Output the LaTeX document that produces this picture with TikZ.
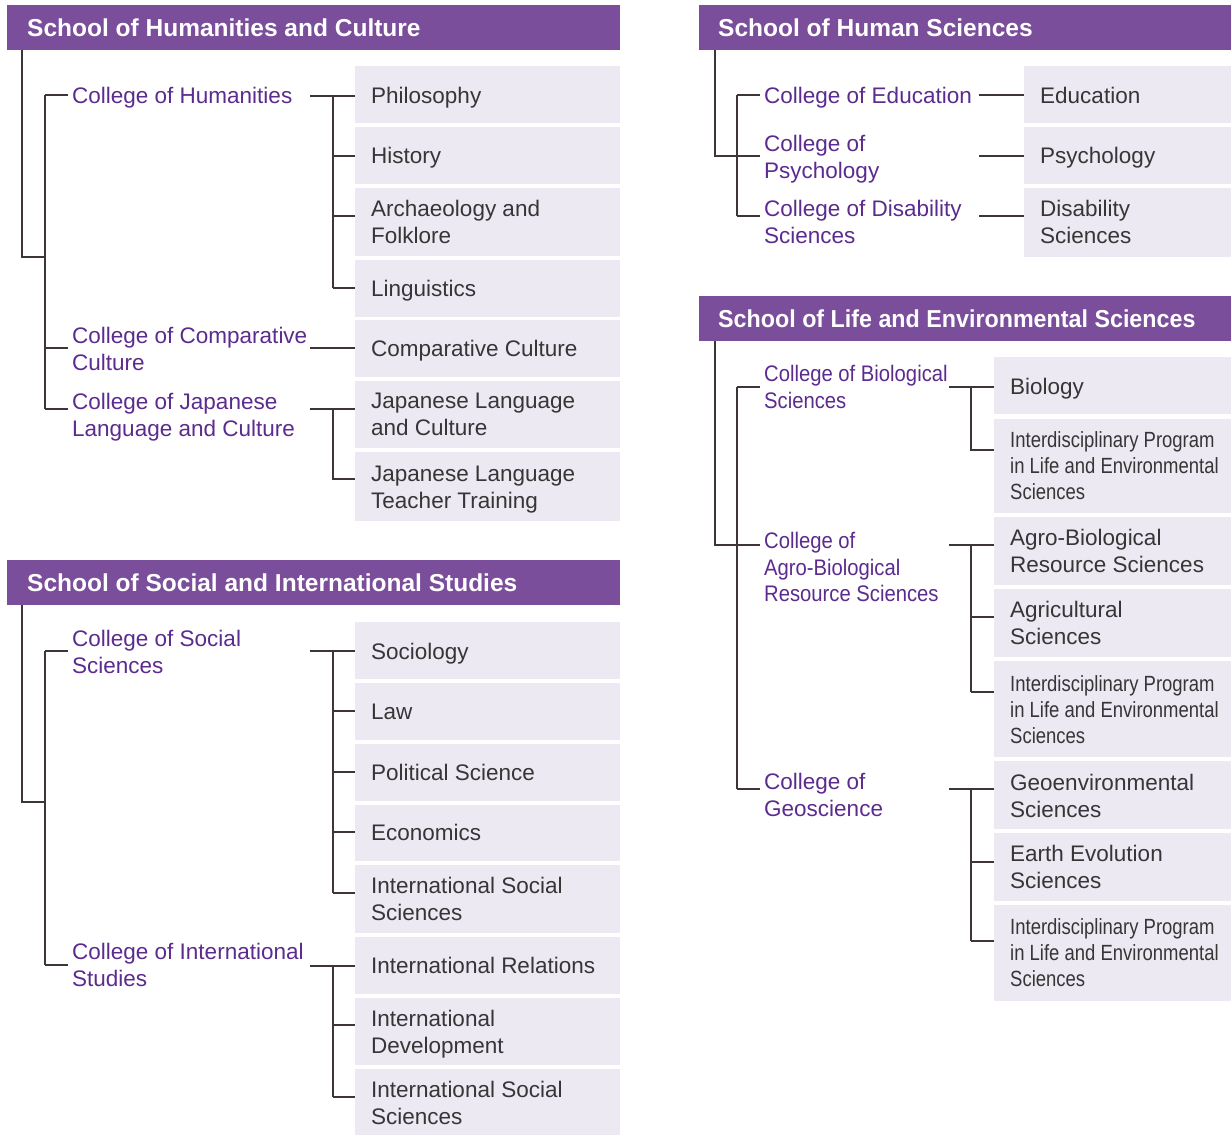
\documentclass[tikz,border=0pt]{standalone}
\usepackage{fontspec}
\setmainfont{Liberation Sans}
\newfontfamily\narrowprog[FakeStretch=0.84]{Liberation Sans}
\newfontfamily\narrowcol[FakeStretch=0.9]{Liberation Sans}
\newfontfamily\narrowhdr[FakeStretch=0.95]{Liberation Sans}
\definecolor{hdrc}{HTML}{7A4E9B}
\definecolor{colc}{HTML}{5B2B8E}
\definecolor{boxc}{HTML}{ECE9F2}
\definecolor{ptc}{HTML}{363636}
\definecolor{linec}{HTML}{3E3636}
\newcommand\mybx[5]{\node[pbox,minimum width=#4pt,minimum height=#5pt] (#1) at (#2,#3) {};}
\newcommand\mytx[5]{\node[#1] (#2) at (#3,{#4-18}) {#5};}
\newcommand\mytxm[5]{\node[#1] (#2) at (#3,{#4-16}) {#5};}
\tikzset{
  hdr/.style={fill=hdrc,draw=none,minimum height=45pt,anchor=north west,inner sep=0pt},
  hdrtxt/.style={anchor=base west,inner sep=0pt,text=white,font=\fontsize{24.5}{28}\selectfont\bfseries},
  nhdrtxt/.style={hdrtxt,font=\narrowhdr\fontsize{24.5}{28}\selectfont\bfseries},
  pbox/.style={fill=boxc,draw=none,anchor=north west,inner sep=0pt},
  ptext/.style={anchor=north west,inner sep=0pt,align=left,text=ptc,font=\fontsize{22.5}{27}\selectfont,execute at begin node={\rule{0pt}{18pt}}},
  nptext/.style={ptext,font=\narrowprog\fontsize{22}{26}\selectfont},
  ctext/.style={ptext,text=colc},
  nctext/.style={ptext,text=colc,font=\narrowcol\fontsize{22.5}{26.5}\selectfont},
  conn/.style={draw=linec,line width=1.2pt}
}
\begin{document}
\begin{tikzpicture}[x=1pt,y=-1pt]
\useasboundingbox (0,0) rectangle (1231,1135);
% ---------- Headers ----------
\node[hdr,minimum width=613pt] (h1) at (7,5) {};
\node[hdrtxt] (h1t) at (27,36) {School of Humanities and Culture};
\node[hdr,minimum width=532pt] (h2) at (699,5) {};
\node[hdrtxt] (h2t) at (718,36) {School of Human Sciences};
\node[hdr,minimum width=532pt] (h3) at (699,296) {};
\node[nhdrtxt] (h3t) at (718,327) {School of Life and Environmental Sciences};
\node[hdr,minimum width=613pt] (h4) at (7,560) {};
\node[hdrtxt] (h4t) at (27,591) {School of Social and International Studies};
% ---------- Humanities boxes ----------
\mybx{bP}{355}{66}{265}{57}
\mybx{bH}{355}{127}{265}{57}
\mybx{bA}{355}{188}{265}{68}
\mybx{bL}{355}{260}{265}{57}
\mybx{bC}{355}{320}{265}{57}
\mybx{bJa}{355}{381}{265}{67}
\mybx{bJb}{355}{452}{265}{69}
\mytx{ptext}{tP}{371}{103}{Philosophy}
\mytx{ptext}{tH}{371}{163}{History}
\mytxm{ptext}{tA}{371}{216}{Archaeology and\\Folklore}
\mytx{ptext}{tL}{371}{296}{Linguistics}
\mytx{ptext}{tC}{371}{356}{Comparative Culture}
\mytxm{ptext}{tJa}{371}{409}{Japanese Language\\and Culture}
\mytxm{ptext}{tJb}{371}{482}{Japanese Language\\Teacher Training}
\mytx{ctext}{cHu}{72}{103}{College of Humanities}
\mytxm{ctext}{cCo}{72}{343}{College of Comparative\\Culture}
\mytxm{ctext}{cJa}{72}{409}{College of Japanese\\Language and Culture}
% ---------- Social boxes ----------
\mybx{bSo}{355}{622}{265}{57}
\mybx{bLa}{355}{683}{265}{57}
\mybx{bPo}{355}{744}{265}{57}
\mybx{bEc}{355}{805}{265}{56}
\mybx{bIS}{355}{865}{265}{68}
\mybx{bIR}{355}{937}{265}{57}
\mybx{bID}{355}{998}{265}{67}
\mybx{bISb}{355}{1069}{265}{66}
\mytx{ptext}{tSo}{371}{659}{Sociology}
\mytx{ptext}{tLa}{371}{719}{Law}
\mytx{ptext}{tPo}{371}{780}{Political Science}
\mytx{ptext}{tEc}{371}{840}{Economics}
\mytxm{ptext}{tIS}{371}{893}{International Social\\Sciences}
\mytx{ptext}{tIR}{371}{973}{International Relations}
\mytxm{ptext}{tID}{371}{1026}{International\\Development}
\mytxm{ptext}{tISb}{371}{1097}{International Social\\Sciences}
\mytxm{ctext}{cSo}{72}{646}{College of Social\\Sciences}
\mytxm{ctext}{cIn}{72}{959}{College of International\\Studies}
% ---------- Human Sciences boxes ----------
\mybx{bEd}{1024}{66}{207}{57}
\mybx{bPs}{1024}{127}{207}{57}
\mybx{bDi}{1024}{188}{207}{69}
\mytx{ptext}{tEd}{1040}{103}{Education}
\mytx{ptext}{tPs}{1040}{163}{Psychology}
\mytxm{ptext}{tDi}{1040}{216}{Disability\\Sciences}
\mytx{ctext}{cEd}{764}{103}{College of Education}
\mytxm{ctext}{cPs}{764}{151}{College of\\Psychology}
\mytxm{ctext}{cDi}{764}{216}{College of Disability\\Sciences}
% ---------- Life boxes ----------
\mybx{bBi}{994}{357}{237}{57}
\mybx{bIa}{994}{419}{237}{94}
\mybx{bAg}{994}{517}{237}{68}
\mybx{bAc}{994}{589}{237}{68}
\mybx{bIb}{994}{661}{237}{96}
\mybx{bGe}{994}{761}{237}{68}
\mybx{bEa}{994}{833}{237}{68}
\mybx{bIc}{994}{905}{237}{96}
\mytx{ptext}{tBi}{1010}{394}{Biology}
\mytxm{nptext}{tIa}{1010}{447}{Interdisciplinary Program\\in Life and Environmental\\Sciences}
\mytxm{ptext}{tAg}{1010}{545}{Agro-Biological\\Resource Sciences}
\mytxm{ptext}{tAc}{1010}{617}{Agricultural\\Sciences}
\mytxm{nptext}{tIb}{1010}{691}{Interdisciplinary Program\\in Life and Environmental\\Sciences}
\mytxm{ptext}{tGe}{1010}{790}{Geoenvironmental\\Sciences}
\mytxm{ptext}{tEa}{1010}{861}{Earth Evolution\\Sciences}
\mytxm{nptext}{tIc}{1010}{934}{Interdisciplinary Program\\in Life and Environmental\\Sciences}
\mytxm{nctext}{cBi}{764}{381}{College of Biological\\Sciences}
\mytxm{nctext}{cAg}{764}{548}{College of\\Agro-Biological\\Resource Sciences}
\mytxm{ctext}{cGe}{764}{789}{College of\\Geoscience}
% ---------- Junction coordinates ----------
\coordinate (s1) at (22,257);
\coordinate (k1) at (45,95);
\coordinate (k2) at (45,348);
\coordinate (k3) at (45,409);
\coordinate (s4) at (22,802);
\coordinate (k4) at (45,651);
\coordinate (k5) at (45,965);
\coordinate (s2) at (715,156);
\coordinate (m1) at (737,95);
\coordinate (m3) at (737,216);
\coordinate (s3) at (715,545);
\coordinate (n1) at (737,387);
\coordinate (n3) at (737,789);
% ---------- Humanities connectors ----------
\draw[conn] ([xshift=15pt]h1.south west) -- (s1) -- (s1 -| k1);
\draw[conn] (k1) -- (k3);
\draw[conn] (k1) -- (68,95);
\draw[conn] (k2) -- (68,348);
\draw[conn] (k3) -- (68,409);
\draw[conn] (310,96) -- (bP.west |- 0,96);
\draw[conn] (333,96) -- (333,288);
\draw[conn] (333,156) -- (bH.west |- 0,156);
\draw[conn] (333,216) -- (bA.west |- 0,216);
\draw[conn] (333,288) -- (bL.west |- 0,288);
\draw[conn] (310,348) -- (bC.west |- 0,348);
\draw[conn] (310,409) -- (bJa.west |- 0,409);
\draw[conn] (333,409) -- (333,479) -- (bJb.west |- 0,479);
% ---------- Social connectors ----------
\draw[conn] ([xshift=15pt]h4.south west) -- (s4) -- (s4 -| k4);
\draw[conn] (k4) -- (k5);
\draw[conn] (k4) -- (68,651);
\draw[conn] (k5) -- (68,965);
\draw[conn] (310,651) -- (bSo.west |- 0,651);
\draw[conn] (333,651) -- (333,893);
\draw[conn] (333,711) -- (bLa.west |- 0,711);
\draw[conn] (333,772) -- (bPo.west |- 0,772);
\draw[conn] (333,832) -- (bEc.west |- 0,832);
\draw[conn] (333,893) -- (bIS.west |- 0,893);
\draw[conn] (310,966) -- (bIR.west |- 0,966);
\draw[conn] (333,966) -- (333,1097);
\draw[conn] (333,1025) -- (bID.west |- 0,1025);
\draw[conn] (333,1097) -- (bISb.west |- 0,1097);
% ---------- Human Sciences connectors ----------
\draw[conn] ([xshift=16pt]h2.south west) -- (s2) -- (760,156);
\draw[conn] (m1) -- (m3);
\draw[conn] (m1) -- (760,95);
\draw[conn] (m3) -- (760,216);
\draw[conn] (979,95) -- (bEd.west |- 0,95);
\draw[conn] (979,156) -- (bPs.west |- 0,156);
\draw[conn] (979,216) -- (bDi.west |- 0,216);
% ---------- Life connectors ----------
\draw[conn] ([xshift=16pt]h3.south west) -- (s3) -- (760,545);
\draw[conn] (n1) -- (n3);
\draw[conn] (n1) -- (760,387);
\draw[conn] (n3) -- (760,789);
\draw[conn] (949,387) -- (bBi.west |- 0,387);
\draw[conn] (971,387) -- (971,450) -- (bIa.west |- 0,450);
\draw[conn] (949,545) -- (bAg.west |- 0,545);
\draw[conn] (971,545) -- (971,692);
\draw[conn] (971,617) -- (bAc.west |- 0,617);
\draw[conn] (971,692) -- (bIb.west |- 0,692);
\draw[conn] (949,789) -- (bGe.west |- 0,789);
\draw[conn] (971,789) -- (971,941);
\draw[conn] (971,862) -- (bEa.west |- 0,862);
\draw[conn] (971,941) -- (bIc.west |- 0,941);
\end{tikzpicture}
\end{document}
